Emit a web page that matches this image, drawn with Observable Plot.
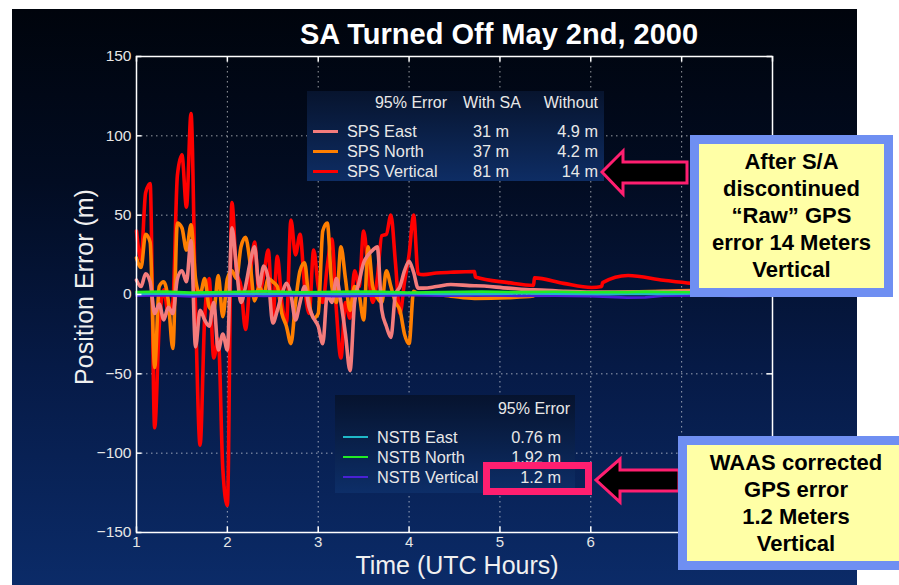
<!DOCTYPE html>
<html><head><meta charset="utf-8">
<script src="https://cdn.jsdelivr.net/npm/d3@7"></script>
<script src="https://cdn.jsdelivr.net/npm/@observablehq/plot@0.6"></script>
<style>
html,body{margin:0;padding:0;background:#fff;}
#wrap{position:relative;width:899px;height:585px;overflow:hidden;font-family:"Liberation Sans",Arial,sans-serif;}
#bg{position:absolute;left:12px;top:9px;width:845px;height:576px;background:linear-gradient(#00040c 0%,#020c22 30%,#061a46 62%,#0b2b68 100%);}
#chart{position:absolute;left:0;top:0;}
.t{position:absolute;white-space:nowrap;line-height:1;}
.box{position:absolute;}
.callout{position:absolute;box-sizing:border-box;border:9px solid #6f8ff2;background:#ffffa6;color:#000;font-weight:bold;font-size:22px;line-height:27px;text-align:center;padding-top:4px;font-family:"Liberation Sans",Arial,sans-serif;}
</style></head>
<body><div id="wrap"><div id="bg"></div><div id="chart"></div></div>
<script>
// ---- data ----
const hours = [1.00,1.05,1.10,1.15,1.20,1.25,1.30,1.35,1.40,1.45,1.50,1.55,1.60,1.65,1.70,1.75,1.80,1.85,1.90,1.95,
  2.00,2.05,2.10,2.15,2.20,2.25,2.30,2.35,2.40,2.45,2.50,2.55,2.60,2.65,2.70,2.75,2.80,2.85,2.90,2.95,
  3.00,3.05,3.10,3.15,3.20,3.25,3.30,3.35,3.40,3.45,3.50,3.55,3.60,3.65,3.70,3.75,3.80,3.85,3.90,3.95,
  4.00,4.05,4.10,4.16,4.30,4.46,4.72,4.73,5.09,5.37,5.38,5.70,6.01,6.12,6.13,6.41,6.80,7.11,7.50,8.00];
const spsVertical = [40,22,64,70,-84,-20,3,-12,-5,75,88,55,114,-10,-95,-15,10,-40,-28,-110,
  -133,58,15,5,-22,10,33,0,12,28,-15,24,-5,-18,47,25,38,5,-12,28,
  5,-5,18,35,-10,-40,-5,-15,15,5,40,15,-5,10,37,38,50,20,-12,8,
  25,50,13,12.5,13.5,14,14.5,11,7.5,5.7,10.5,7,4.4,5,7.5,12,9,7,6,5];
const spsNorth = [23,17,38,33,-46,5,8,-4,-34,45,42,28,44,10,0,10,-8,-10,12,-14,
  10,15,10,30,36,20,-4,5,0,10,8,5,-12,-20,-31,-5,15,20,-5,-15,
  -12,40,45,5,-5,30,10,-10,5,0,-16,30,5,-2,-5,15,5,-5,-10,-25,
  -31,2,0.5,0.5,0,-1,-2.5,-2.5,-2,-1,0.5,0.5,0.5,1,1,1.5,2,2.5,2.5,2.5];
const spsEast = [9,5,13,8,-12,-6,-16,-8,-12,10,15,8,34,-33,-10,-16,-20,-5,-35,-25,
  -35,42,17,-5,5,20,30,5,18,10,-18,-10,0,7,0,-16,-5,5,-8,-15,
  -20,-31,0,-5,10,-5,-25,-48,-5,8,20,25,28,30,-10,-20,-27,0,5,15,
  21,14,4,4,5,6.3,5.5,5.5,4,3,3,2,1.5,1.5,1.5,1.5,1.8,2,2,2];
const nstbHours = [1,1.3,1.6,2,2.4,2.8,3.2,3.6,4.0,4.4,4.8,5.2,5.6,6.0,6.2,6.4,6.6,6.8,7.2,7.6,8.0];
const nstbNorth = [1.5,1.8,1.2,1.6,2.0,1.4,1.7,1.9,1.3,1.6,1.8,1.5,1.7,1.4,1.6,1.5,1.8,1.6,1.4,1.7,1.5];
const nstbEast = [0.3,0.6,0.2,0.5,0.4,0.7,0.3,0.5,0.6,0.4,0.3,0.6,0.5,0.4,0.2,0.3,0.5,0.4,0.6,0.5,0.4];
const nstbVertical = [-0.8,-0.5,-1.2,-0.6,-0.9,-0.4,-1.0,-0.7,-0.5,-0.8,-0.6,-0.9,-0.7,-1.0,-1.5,-2.0,-1.8,-0.8,-0.6,-0.9,-0.7];

const spsNames = ["SPS East","SPS North","SPS Vertical"];
const spsWithSA = ["31 m","37 m","81 m"];
const spsWithout = ["4.9 m","4.2 m","14 m"];
const nstbNames = ["NSTB East","NSTB North","NSTB Vertical"];
const nstb95 = ["0.76 m","1.92 m","1.2 m"];
const xTicks = [1,2,3,4,5,6,7,8];
const xTickLabels = [1,2,3,4,5,6,7];
const yTicks = [-150,-100,-50,0,50,100,150];
const spsColors = ["#f47c7c","#ff7f00","#ff0000"];
const nstbColors = ["#1fb8c8","#22ee22","#4b1fd6"];

const rows = (hs, vs) => hs.map((h, i) => ({h, v: vs[i]}));

const plot = Plot.plot({
  width: 899, height: 585,
  marginLeft: 136, marginRight: 127, marginTop: 56, marginBottom: 53,
  style: {background: "transparent", color: "#e6e6e6", fontFamily: "Liberation Sans, Arial, sans-serif", fontSize: "15px"},
  x: {domain: [1, 8]},
  y: {domain: [-150, 150]},
  marks: [
    Plot.gridX(xTicks.slice(1, -1), {stroke: "#ffffff", strokeOpacity: 0.6, strokeDasharray: "1.5,3.5"}),
    Plot.gridY([-100, -50, 0, 50, 100], {stroke: "#ffffff", strokeOpacity: 0.6, strokeDasharray: "1.5,3.5"}),
    Plot.line(rows(hours, spsVertical), {x: "h", y: "v", stroke: spsColors[2], strokeWidth: 3.6, curve: "monotone-x"}),
    Plot.line(rows(hours, spsNorth), {x: "h", y: "v", stroke: spsColors[1], strokeWidth: 3.6, curve: "monotone-x"}),
    Plot.line(rows(hours, spsEast), {x: "h", y: "v", stroke: spsColors[0], strokeWidth: 3.6, curve: "monotone-x"}),
    Plot.line(rows(nstbHours, nstbVertical), {x: "h", y: "v", stroke: nstbColors[2], strokeWidth: 2.6}),
    Plot.line(rows(nstbHours, nstbEast), {x: "h", y: "v", stroke: nstbColors[0], strokeWidth: 2.6}),
    Plot.line(rows(nstbHours, nstbNorth), {x: "h", y: "v", stroke: nstbColors[1], strokeWidth: 2.6}),
    Plot.frame({stroke: "#ffffff", strokeWidth: 1.5}),
    Plot.ruleX(xTicks, {y1: -150, y2: -146.5, stroke: "#ffffff", strokeWidth: 1.5}),
    Plot.ruleX(xTicks, {y1: 150, y2: 146.5, stroke: "#ffffff", strokeWidth: 1.5}),
    Plot.ruleY(yTicks, {x1: 1, x2: 1.06, stroke: "#ffffff", strokeWidth: 1.5}),
    Plot.ruleY(yTicks, {x1: 8, x2: 7.94, stroke: "#ffffff", strokeWidth: 1.5}),
    Plot.axisX(xTickLabels, {tickSize: 0, tickPadding: 4, label: null, fill: "#e6e6e6", fontSize: 15}),
    Plot.axisY(yTicks, {tickSize: 0, tickPadding: 5, label: null, fill: "#e6e6e6", fontSize: 15.5})
  ]
});
document.getElementById("chart").appendChild(plot);

const wrap = document.getElementById("wrap");
function txt(x, y, s, o = {}) {
  const d = document.createElement("div");
  d.className = "t";
  d.textContent = s;
  const a = o.anchor || "start";
  const tx = a === "start" ? "0" : a === "end" ? "-100%" : "-50%";
  d.style.left = x + "px"; d.style.top = y + "px";
  d.style.transform = `translate(${tx},-50%)`;
  d.style.fontSize = (o.size || 16) + "px";
  d.style.fontWeight = o.weight || "normal";
  d.style.color = o.color || "#ffffff";
  if (o.family) d.style.fontFamily = o.family;
  wrap.appendChild(d);
  return d;
}
function box(l, t, w, h, bg, extra = "") {
  const d = document.createElement("div");
  d.className = "box";
  d.style.cssText = `left:${l}px;top:${t}px;width:${w}px;height:${h}px;background:${bg};${extra}`;
  wrap.appendChild(d);
  return d;
}

// title & axis labels
txt(499, 34, "SA Turned Off May 2nd, 2000", {anchor: "middle", size: 29, weight: "bold"});
txt(457, 565, "Time (UTC Hours)", {anchor: "middle", size: 25, color: "#f0f0f0"});
const yl = txt(84, 287, "Position Error (m)", {anchor: "middle", size: 25, color: "#f0f0f0"});
yl.style.transform = "translate(-50%,-50%) rotate(-90deg)";

// SPS legend
box(307, 91, 297, 90, "linear-gradient(#07142e,#0e2d64)");
txt(447, 103, "95% Error", {anchor: "end", size: 16, color: "#e8e8e8"});
txt(492, 103, "With SA", {anchor: "middle", size: 16, color: "#e8e8e8"});
txt(598, 103, "Without", {anchor: "end", size: 16, color: "#e8e8e8"});
const spsRowY = [131, 151, 171];
spsNames.forEach((n, i) => {
  box(313, spsRowY[i] - 1.5, 25, 3, spsColors[i]);
  txt(347, spsRowY[i], n, {size: 16.3, color: "#e8e8e8"});
  txt(491, spsRowY[i], spsWithSA[i], {anchor: "middle", size: 16.3, color: "#e8e8e8"});
  txt(598, spsRowY[i], spsWithout[i], {anchor: "end", size: 16.3, color: "#e8e8e8"});
});

// NSTB legend
box(335, 395, 240, 98, "linear-gradient(#06132e,#0d2e68)");
txt(570, 409, "95% Error", {anchor: "end", size: 16, color: "#e8e8e8"});
const nstbRowY = [437, 457, 477];
nstbNames.forEach((n, i) => {
  box(343, nstbRowY[i] - 1.25, 25, 2.5, nstbColors[i]);
  txt(377, nstbRowY[i], n, {size: 16.3, color: "#e8e8e8"});
  txt(561, nstbRowY[i], nstb95[i], {anchor: "end", size: 16.3, color: "#e8e8e8"});
});
box(483, 462, 109, 33, "transparent", "box-sizing:border-box;border:7px solid #ff1f70;");

// arrows
const ns = "http://www.w3.org/2000/svg";
const asvg = document.createElementNS(ns, "svg");
asvg.setAttribute("width", 899); asvg.setAttribute("height", 585);
asvg.style.cssText = "position:absolute;left:0;top:0;";
["602,172 623,151 623,162 687,162 687,183 623,183 623,194",
 "596,480 620,459 620,470 679,470 679,491 620,491 620,502"].forEach(p => {
  const pg = document.createElementNS(ns, "polygon");
  pg.setAttribute("points", p);
  pg.setAttribute("fill", "#000");
  pg.setAttribute("stroke", "#ff1f70");
  pg.setAttribute("stroke-width", "3");
  asvg.appendChild(pg);
});
wrap.appendChild(asvg);

// callouts
const c1 = box(690, 135, 203, 162, "", "");
c1.className = "callout";
c1.innerHTML = "After S/A<br>discontinued<br>\u201cRaw\u201d GPS<br>error 14 Meters<br>Vertical";
const c2 = box(678, 436, 236, 134, "", "");
c2.className = "callout";
c2.innerHTML = "WAAS corrected<br>GPS error<br>1.2 Meters<br>Vertical";
</script></body></html>
